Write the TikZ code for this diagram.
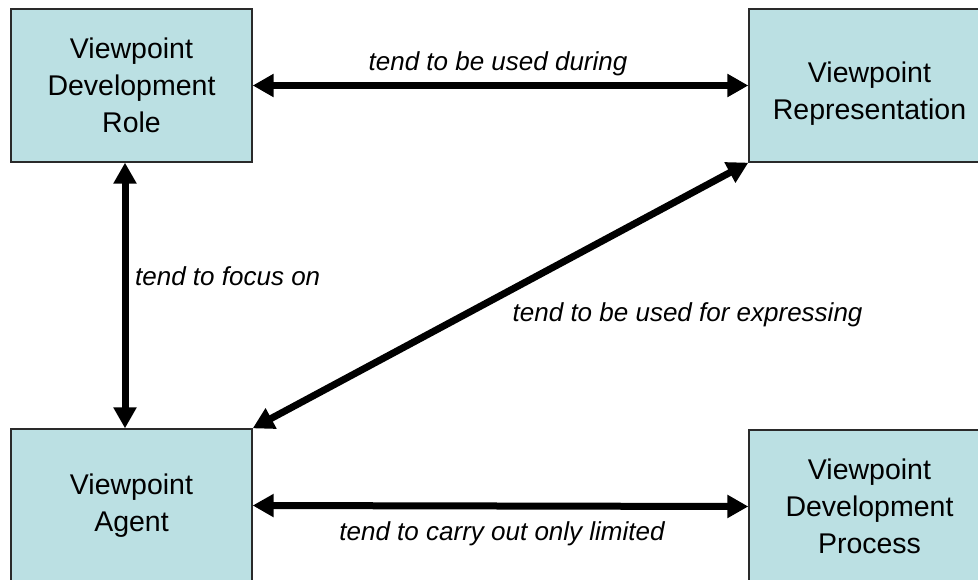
\documentclass[tikz,border=0pt]{standalone}
\usepackage{fontspec}
\setmainfont{Liberation Sans}
\usetikzlibrary{arrows.meta}
\definecolor{boxfill}{HTML}{BBE0E3}
\definecolor{boxline}{HTML}{2A2A2A}
\tikzset{
  vpbox/.style={draw=boxline, line width=1.3pt, fill=boxfill, minimum width=241pt, minimum height=153pt,
    inner sep=0pt, align=center, font=\fontsize{28.5}{37}\selectfont},
  rel/.style={line width=7pt, arrows={Triangle[length=21pt,width=22pt]-Triangle[length=21pt,width=22pt]}},
  rellabel/.style={font=\fontsize{26}{30}\selectfont\itshape, inner sep=0pt}
}
\begin{document}
\begin{tikzpicture}[x=1pt,y=-1pt]
\useasboundingbox (0,0) rectangle (978,579);
\clip (0,0) rectangle (978,579);
\node[vpbox] (role) at (131.5,85.5) {Viewpoint\\Development\\Role};
\node[vpbox] (rep) at (869.5,85.5) {\rule{0pt}{37pt}Viewpoint\\Representation};
\node[vpbox] (agent) at (131.5,505.5) {Viewpoint\\Agent};
\node[vpbox] (proc) at (869.5,506.5) {Viewpoint\\Development\\Process};
\coordinate (vx) at (125,300);
\draw[rel] (role.east) -- (rep.west);
\draw[rel] (role.south -| vx) -- (agent.north -| vx);
\draw[rel] (agent.north east) -- (rep.south west);
\draw[rel] (agent.east) -- (proc.west);
\node[rellabel, anchor=base] (l1) at (498,70.7) {tend to be used during};
\node[rellabel, anchor=base west] (l2) at (135,285) {tend to focus on};
\node[rellabel, anchor=base west] (l3) at (512.5,321) {tend to be used for expressing};
\node[rellabel, anchor=base] (l4) at (502,540) {tend to carry out only limited};
\end{tikzpicture}
\end{document}
